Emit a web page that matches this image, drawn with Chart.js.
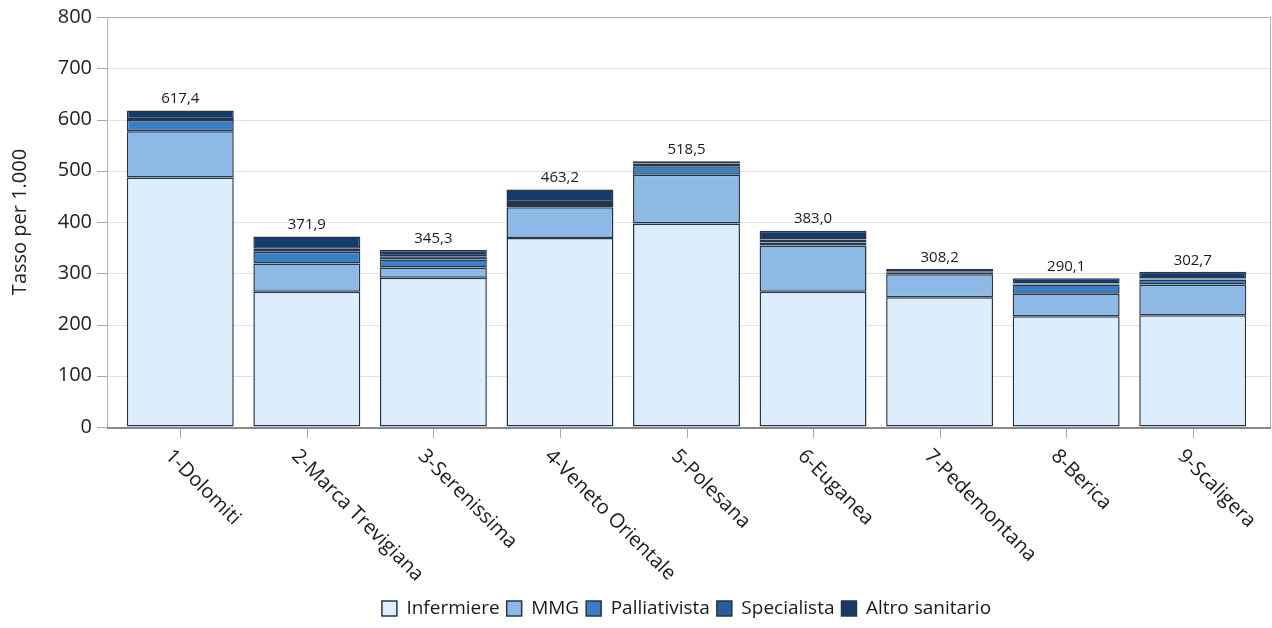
<!DOCTYPE html>
<html>
<head>
<meta charset="utf-8">
<script src="https://cdn.jsdelivr.net/npm/chart.js@4/dist/chart.umd.min.js"></script>
<style>
  html, body { margin: 0; padding: 0; background: #fff; }
  #wrap { width: 1272px; height: 628px; position: relative; }
</style>
</head>
<body>
<div id="wrap"><canvas id="chart"></canvas></div>
<script>
// ================= DATA =================
const categories = [
  '1-Dolomiti', '2-Marca Trevigiana', '3-Serenissima', '4-Veneto Orientale',
  '5-Polesana', '6-Euganea', '7-Pedemontana', '8-Berica', '9-Scaligera'
];

const infermiere    = [487, 264, 291, 369, 397, 264, 253, 216, 218];
const mmg           = [90, 55, 20, 60, 95, 90, 45, 44, 60];
const palliativista = [22, 23, 16, 4, 17, 6, 3, 18, 10];
const specialista   = [2, 6, 6, 6, 5, 6, 2, 2, 2];
const altro         = [16.4, 23.9, 12.3, 24.2, 4.5, 17, 5.2, 10.1, 12.7];

const yTicks = [0, 100, 200, 300, 400, 500, 600, 700, 800];

const FONT = "'Open Sans', 'DejaVu Sans', sans-serif";
const EDGE = '#26364a';
const INSET_L = 10;   // plot frame sits a bit outside the bar area
const INSET_R = 15;

function ds(label, data, color) {
  return {
    label: label,
    data: data,
    backgroundColor: color,
    borderColor: EDGE,
    borderWidth: 1.5,
    borderSkipped: false,
    categoryPercentage: 1,
    barPercentage: 0.845
  };
}

// grid, frame, ticks, totals and rotated category labels
const extras = {
  id: 'extras',
  afterLayout(chart) {
    // centre the legend under the plot, not the whole canvas
    const a = chart.chartArea;
    if (chart.legend) {
      chart.legend.left = a.left;
      chart.legend.right = a.right;
      chart.legend.width = a.right - a.left;
    }
  },
  beforeDatasetsDraw(chart) {
    const ctx = chart.ctx;
    const ys = chart.scales.y;
    const a = chart.chartArea;
    const L = a.left - INSET_L, R = a.right + INSET_R;
    ctx.save();
    ctx.lineWidth = 1;
    yTicks.forEach(v => {
      const y = Math.round(ys.getPixelForValue(v)) + 0.5;
      ctx.strokeStyle = '#e3e3e3';
      ctx.beginPath(); ctx.moveTo(L, y); ctx.lineTo(R, y); ctx.stroke();
      ctx.strokeStyle = '#a8a8a8';
      ctx.beginPath(); ctx.moveTo(L - 10, y); ctx.lineTo(L, y); ctx.stroke();
    });
    ctx.restore();
  },
  afterDatasetsDraw(chart) {
    const ctx = chart.ctx;
    const xs = chart.scales.x;
    const a = chart.chartArea;
    const L = a.left - INSET_L, R = a.right + INSET_R;
    ctx.save();
    // frame
    ctx.strokeStyle = '#b0b0b0';
    ctx.lineWidth = 1;
    ctx.beginPath();
    ctx.moveTo(L + 0.5, a.bottom);
    ctx.lineTo(L + 0.5, a.top + 0.5);
    ctx.lineTo(R - 0.5, a.top + 0.5);
    ctx.lineTo(R - 0.5, a.bottom);
    ctx.stroke();
    // x axis
    ctx.strokeStyle = '#888';
    ctx.lineWidth = 2;
    ctx.beginPath(); ctx.moveTo(L, a.bottom + 1); ctx.lineTo(R, a.bottom + 1); ctx.stroke();
    ctx.lineWidth = 1;
    ctx.strokeStyle = '#a8a8a8';
    categories.forEach((c, i) => {
      const x = Math.round(xs.getPixelForTick(i)) + 0.5;
      ctx.beginPath(); ctx.moveTo(x, a.bottom + 2); ctx.lineTo(x, a.bottom + 11); ctx.stroke();
    });

    // totals
    const last = chart.getDatasetMeta(chart.data.datasets.length - 1);
    ctx.font = "15px " + FONT;
    ctx.fillStyle = '#1a1a1a';
    ctx.textAlign = 'center';
    ctx.textBaseline = 'bottom';
    last.data.forEach((bar, i) => {
      let tot = 0;
      chart.data.datasets.forEach(d => { tot += d.data[i]; });
      ctx.fillText(tot.toFixed(1).replace('.', ','), bar.x, bar.y - 4);
    });

    // labels going down-right
    ctx.font = "20px " + FONT;
    ctx.textAlign = 'left';
    ctx.textBaseline = 'middle';
    categories.forEach((c, i) => {
      const x = xs.getPixelForTick(i);
      ctx.save();
      ctx.translate(x - 12, a.bottom + 26);
      ctx.rotate(Math.PI / 4);
      ctx.fillText(c, 0, 0);
      ctx.restore();
    });
    ctx.restore();
  }
};

new Chart(document.getElementById('chart'), {
  type: 'bar',
  data: {
    labels: categories,
    datasets: [
      ds('Infermiere', infermiere, '#dcedfc'),
      ds('MMG', mmg, '#8cb9e6'),
      ds('Palliativista', palliativista, '#3a7ec6'),
      ds('Specialista', specialista, '#2a5d9e'),
      ds('Altro sanitario', altro, '#163a6c')
    ]
  },
  options: {
    responsive: true,
    maintainAspectRatio: false,
    animation: false,
    layout: { padding: { top: 15, right: INSET_R + 1, left: 0, bottom: 0 } },
    plugins: {
      legend: {
        position: 'bottom',
        labels: {
          font: { size: 19, family: FONT },
          color: '#1a1a1a',
          boxWidth: 15,
          boxHeight: 15,
          padding: 7
        }
      },
      tooltip: { enabled: false }
    },
    scales: {
      x: {
        stacked: true,
        grid: { display: false },
        border: { display: false },
        ticks: { color: 'rgba(0,0,0,0)', font: { size: 17, family: FONT }, maxRotation: 0, autoSkip: false },
        afterFit(scale) { scale.height = 165; }
      },
      y: {
        stacked: true,
        min: 0,
        max: 800,
        afterBuildTicks(scale) { scale.ticks = yTicks.map(v => ({ value: v })); },
        afterFit(scale) { scale.width = 107 + INSET_L; },
        grid: { drawOnChartArea: false, tickLength: 20, tickColor: 'rgba(0,0,0,0)' },
        border: { display: false },
        ticks: { color: '#222', font: { size: 20, family: FONT }, padding: 5 },
        title: {
          display: true,
          text: 'Tasso per 1.000',
          color: '#222',
          font: { size: 20, family: FONT },
          padding: { top: 8, bottom: 4 }
        }
      }
    }
  },
  plugins: [extras]
});
</script>
</body>
</html>
